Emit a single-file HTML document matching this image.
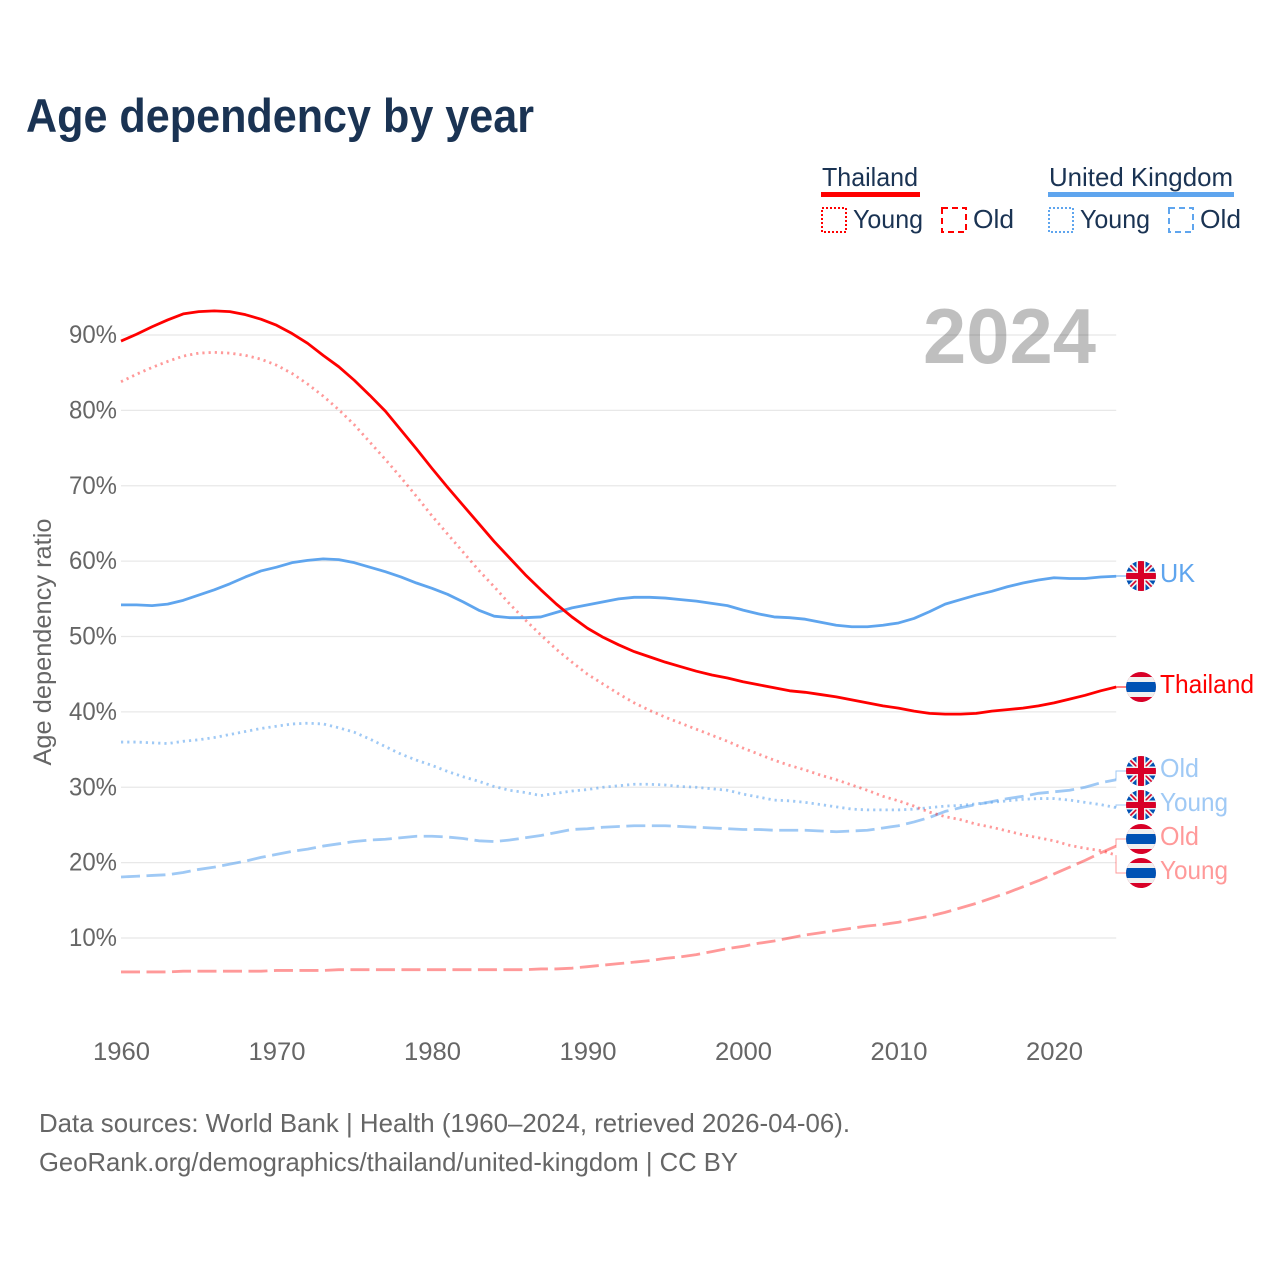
<!DOCTYPE html>
<html lang="en">
<head>
<meta charset="utf-8">
<title>Age dependency by year</title>
<style>
html,body{margin:0;padding:0;background:#fff;}
svg{display:block;font-family:"Liberation Sans",sans-serif;}
</style>
</head>
<body>
<svg id="chart" xmlns="http://www.w3.org/2000/svg" width="1280" height="1280" viewBox="0 0 1280 1280">
  <defs>
    <clipPath id="flag-clip"><circle cx="0" cy="0" r="15"/></clipPath>
    <g id="flag-uk" clip-path="url(#flag-clip)">
      <rect x="-15" y="-15" width="30" height="30" fill="#0052b4"/>
      <path d="M-15 -15L15 15M15 -15L-15 15" stroke="#f0f0f0" stroke-width="5"/>
      <path d="M-15 -15L15 15M15 -15L-15 15" stroke="#d80027" stroke-width="1.6"/>
      <rect x="-4.5" y="-15" width="9" height="30" fill="#f0f0f0"/>
      <rect x="-15" y="-4.5" width="30" height="9" fill="#f0f0f0"/>
      <rect x="-3" y="-15" width="6" height="30" fill="#d80027"/>
      <rect x="-15" y="-3" width="30" height="6" fill="#d80027"/>
    </g>
    <g id="flag-th" clip-path="url(#flag-clip)">
      <rect x="-15" y="-15" width="30" height="30" fill="#d80027"/>
      <rect x="-15" y="-10" width="30" height="20" fill="#f0f0f0"/>
      <rect x="-15" y="-5" width="30" height="10" fill="#0052b4"/>
    </g>
  </defs>

  <text x="26" y="132" font-size="47" font-weight="700" fill="#1a3353" textLength="508" lengthAdjust="spacingAndGlyphs">Age dependency by year</text>

  <g font-size="26" fill="#1a3353">
    <text x="822" y="186" textLength="96" lengthAdjust="spacingAndGlyphs">Thailand</text>
    <rect x="821" y="192" width="99" height="5" fill="#ff0000"/>
    <rect x="822" y="208" width="24" height="24" fill="none" stroke="#ff0000" stroke-width="2" stroke-dasharray="2 2"/>
    <text x="853" y="228" textLength="70" lengthAdjust="spacingAndGlyphs">Young</text>
    <rect x="942" y="208" width="24" height="24" fill="none" stroke="#ff0000" stroke-width="2" stroke-dasharray="6 4"/>
    <text x="973" y="228" textLength="41" lengthAdjust="spacingAndGlyphs">Old</text>
    <text x="1049" y="186" textLength="184" lengthAdjust="spacingAndGlyphs">United Kingdom</text>
    <rect x="1048" y="192" width="186" height="5" fill="#5fa5ee"/>
    <rect x="1049" y="208" width="24" height="24" fill="none" stroke="#5fa5ee" stroke-width="2" stroke-dasharray="2 2"/>
    <text x="1080" y="228" textLength="70" lengthAdjust="spacingAndGlyphs">Young</text>
    <rect x="1169" y="208" width="24" height="24" fill="none" stroke="#5fa5ee" stroke-width="2" stroke-dasharray="6 4"/>
    <text x="1200" y="228" textLength="41" lengthAdjust="spacingAndGlyphs">Old</text>
  </g>

  <g id="grid"></g>
  <g id="ticks" font-size="25" fill="#666666"></g>
  <text transform="translate(51,642) rotate(-90)" text-anchor="middle" font-size="25" fill="#666666" textLength="247" lengthAdjust="spacingAndGlyphs">Age dependency ratio</text>

  <text x="923" y="363" font-size="78" font-weight="700" fill="#000000" fill-opacity="0.25" textLength="173" lengthAdjust="spacingAndGlyphs">2024</text>

  <g id="series"></g>
  <g id="end-labels" font-size="26"></g>

  <g font-size="26" fill="#666666">
    <text x="39" y="1132" textLength="811" lengthAdjust="spacingAndGlyphs">Data sources: World Bank | Health (1960–2024, retrieved 2026-04-06).</text>
    <text x="39" y="1171" textLength="699" lengthAdjust="spacingAndGlyphs">GeoRank.org/demographics/thailand/united-kingdom | CC BY</text>
  </g>
</svg>

<script>
const firstYear = 1960;
const yTickValues = [10, 20, 30, 40, 50, 60, 70, 80, 90];
const xTickValues = [1960, 1970, 1980, 1990, 2000, 2010, 2020];

const thailandTotal = [89.2,90.1,91.1,92.0,92.8,93.1,93.2,93.1,92.7,92.1,91.3,90.2,88.9,87.3,85.8,84.0,82.0,79.9,77.4,74.9,72.3,69.8,67.4,65.0,62.6,60.4,58.2,56.2,54.3,52.6,51.1,49.9,48.9,48.0,47.3,46.6,46.0,45.4,44.9,44.5,44.0,43.6,43.2,42.8,42.6,42.3,42.0,41.6,41.2,40.8,40.5,40.1,39.8,39.7,39.7,39.8,40.1,40.3,40.5,40.8,41.2,41.7,42.2,42.8,43.3];
const thailandYoung = [83.8,84.8,85.7,86.5,87.2,87.6,87.7,87.6,87.3,86.8,86.0,84.9,83.5,81.9,80.1,78.1,75.8,73.5,71.1,68.6,66.0,63.6,61.2,58.8,56.6,54.3,52.2,50.2,48.3,46.6,45.0,43.7,42.4,41.2,40.2,39.3,38.5,37.7,36.9,36.1,35.2,34.4,33.6,32.9,32.3,31.6,31.0,30.3,29.6,28.8,28.2,27.5,26.7,26.1,25.7,25.1,24.7,24.2,23.7,23.3,22.9,22.3,21.9,21.6,21.0];
const thailandOld = [5.5,5.5,5.5,5.5,5.6,5.6,5.6,5.6,5.6,5.6,5.7,5.7,5.7,5.7,5.8,5.8,5.8,5.8,5.8,5.8,5.8,5.8,5.8,5.8,5.8,5.8,5.8,5.9,5.9,6.0,6.2,6.4,6.6,6.8,7.0,7.3,7.5,7.8,8.2,8.6,8.9,9.3,9.6,10.0,10.4,10.7,11.0,11.3,11.6,11.8,12.1,12.5,12.9,13.4,14.0,14.6,15.3,16.0,16.8,17.6,18.5,19.4,20.3,21.3,22.2];
const ukTotal = [54.2,54.2,54.1,54.3,54.8,55.5,56.2,57.0,57.9,58.7,59.2,59.8,60.1,60.3,60.2,59.8,59.2,58.6,57.9,57.1,56.4,55.6,54.6,53.5,52.7,52.5,52.5,52.6,53.2,53.8,54.2,54.6,55.0,55.2,55.2,55.1,54.9,54.7,54.4,54.1,53.5,53.0,52.6,52.5,52.3,51.9,51.5,51.3,51.3,51.5,51.8,52.4,53.3,54.3,54.9,55.5,56.0,56.6,57.1,57.5,57.8,57.7,57.7,57.9,58.0];
const ukYoung = [36.0,36.0,35.9,35.8,36.1,36.3,36.6,37.0,37.4,37.8,38.1,38.4,38.5,38.4,37.9,37.3,36.4,35.4,34.4,33.6,32.9,32.1,31.4,30.8,30.1,29.6,29.3,28.9,29.2,29.5,29.7,30.0,30.2,30.4,30.4,30.3,30.1,30.0,29.8,29.6,29.1,28.7,28.3,28.2,28.0,27.7,27.4,27.1,27.0,27.0,27.0,27.1,27.3,27.5,27.6,27.8,28.0,28.2,28.4,28.5,28.5,28.3,28.0,27.7,27.3];
const ukOld = [18.1,18.2,18.3,18.4,18.7,19.1,19.4,19.8,20.2,20.7,21.1,21.5,21.8,22.2,22.5,22.8,23.0,23.1,23.3,23.5,23.5,23.4,23.2,22.9,22.8,23.0,23.3,23.6,24.0,24.4,24.5,24.7,24.8,24.9,24.9,24.9,24.8,24.7,24.6,24.5,24.4,24.4,24.3,24.3,24.3,24.2,24.1,24.2,24.3,24.6,24.9,25.4,26.0,26.8,27.3,27.7,28.1,28.5,28.8,29.2,29.4,29.6,30.0,30.6,31.0];

const SVG_NS = 'http://www.w3.org/2000/svg';
function xScale(year) { return 121 + (year - 1960) * 15.55; }
function yScale(value) { return 1013.4 - value * 7.5375; }
function linePath(values) {
  return values.map(function (v, i) {
    return (i ? 'L' : 'M') + xScale(firstYear + i).toFixed(2) + ' ' + yScale(v).toFixed(2);
  }).join('');
}

const gridGroup = document.getElementById('grid');
const tickGroup = document.getElementById('ticks');
const seriesGroup = document.getElementById('series');
const labelGroup = document.getElementById('end-labels');

yTickValues.forEach(function (v) {
  const line = document.createElementNS(SVG_NS, 'line');
  
  
  line.setAttribute('x1', xScale(1960));
  line.setAttribute('x2', xScale(2024));
  line.setAttribute('y1', yScale(v));
  line.setAttribute('y2', yScale(v));
  line.setAttribute('stroke', '#e8e8e8');
  line.setAttribute('stroke-width', '1.3');
  gridGroup.appendChild(line);

  const label = document.createElementNS(SVG_NS, 'text');
  
  
  label.setAttribute('x', 69);
  label.setAttribute('y', yScale(v) + 8);
  label.setAttribute('textLength', 48);
  label.setAttribute('lengthAdjust', 'spacingAndGlyphs');
  label.textContent = v + '%';
  tickGroup.appendChild(label);
});

xTickValues.forEach(function (year) {
  const label = document.createElementNS(SVG_NS, 'text');
  
  
  label.setAttribute('x', xScale(year) - 28);
  label.setAttribute('y', 1060);
  label.setAttribute('textLength', 57);
  label.setAttribute('lengthAdjust', 'spacingAndGlyphs');
  label.textContent = year;
  tickGroup.appendChild(label);
});

const seriesList = [
  { id: 'uk-old', values: ukOld, color: '#5fa5ee', opacity: 0.6, dash: '19 6.5', width: 2.8, text: 'Old', flag: 'flag-uk', labelY: 771 },
  { id: 'uk-young', values: ukYoung, color: '#5fa5ee', opacity: 0.6, dash: '2.2 4', width: 2.8, text: 'Young', flag: 'flag-uk', labelY: 805 },
  { id: 'thailand-old', values: thailandOld, color: '#ff0000', opacity: 0.4, dash: '19 6.5', width: 2.8, text: 'Old', flag: 'flag-th', labelY: 839 },
  { id: 'thailand-young', values: thailandYoung, color: '#ff0000', opacity: 0.4, dash: '2.2 4', width: 2.8, text: 'Young', flag: 'flag-th', labelY: 873 },
  { id: 'uk-total', values: ukTotal, color: '#5fa5ee', opacity: 1, dash: '', width: 2.8, text: 'UK', flag: 'flag-uk', labelY: 576 },
  { id: 'thailand-total', values: thailandTotal, color: '#ff0000', opacity: 1, dash: '', width: 2.8, text: 'Thailand', flag: 'flag-th', labelY: 687 }
];
const labelWidths = { 'Old': 39, 'Young': 68, 'UK': 35, 'Thailand': 94 };

seriesList.forEach(function (s) {
  const path = document.createElementNS(SVG_NS, 'path');
  
  
  path.setAttribute('d', linePath(s.values));
  path.setAttribute('fill', 'none');
  path.setAttribute('stroke', s.color);
  path.setAttribute('stroke-opacity', s.opacity);
  path.setAttribute('stroke-width', s.width);
  path.setAttribute('stroke-linejoin', 'round');
  if (s.dash) path.setAttribute('stroke-dasharray', s.dash);
  seriesGroup.appendChild(path);

  const endY = yScale(s.values[s.values.length - 1]);
  const leader = document.createElementNS(SVG_NS, 'path');
  
  
  leader.setAttribute('d', 'M1116 ' + endY.toFixed(2) + 'L1116 ' + s.labelY + 'L1126 ' + s.labelY);
  leader.setAttribute('fill', 'none');
  leader.setAttribute('stroke', s.color);
  leader.setAttribute('stroke-opacity', s.opacity);
  leader.setAttribute('stroke-width', '1');
  labelGroup.appendChild(leader);

  const flag = document.createElementNS(SVG_NS, 'use');
  
  
  flag.setAttribute('href', '#' + s.flag);
  flag.setAttribute('transform', 'translate(1141 ' + s.labelY + ')');
  labelGroup.appendChild(flag);

  const text = document.createElementNS(SVG_NS, 'text');
  
  
  text.setAttribute('x', 1160);
  text.setAttribute('y', s.labelY + 6);
  text.setAttribute('fill', s.color);
  text.setAttribute('fill-opacity', s.opacity);
  text.setAttribute('textLength', labelWidths[s.text]);
  text.setAttribute('lengthAdjust', 'spacingAndGlyphs');
  text.textContent = s.text;
  labelGroup.appendChild(text);
});
</script>
</body>
</html>
